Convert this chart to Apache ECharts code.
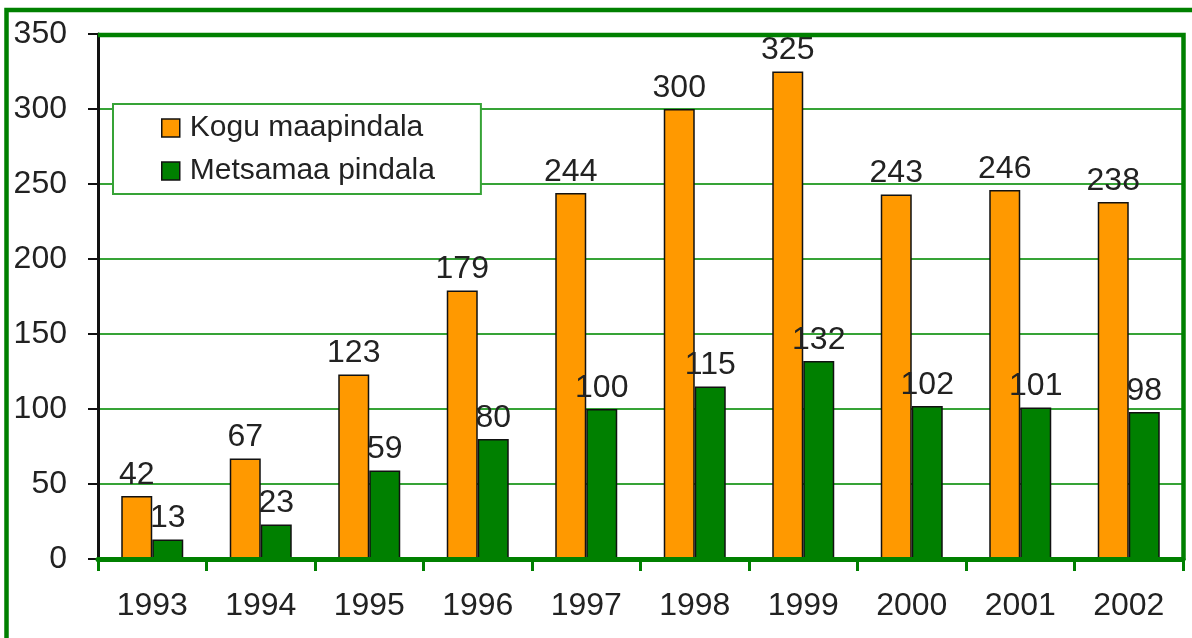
<!DOCTYPE html>
<html>
<head>
<meta charset="utf-8">
<script src="https://cdn.jsdelivr.net/npm/echarts@6/dist/echarts.min.js"></script>
<style>
html, body { margin: 0; padding: 0; background: #fff; }
#chart { width: 1192px; height: 638px; }
</style>
</head>
<body>
<div id="chart"></div>
<script>
// andmed
var years = ['1993', '1994', '1995', '1996', '1997', '1998', '1999', '2000', '2001', '2002'];
var kogu = [42, 67, 123, 179, 244, 300, 325, 243, 246, 238];
var mets = [13, 23, 59, 80, 100, 115, 132, 102, 101, 98];
var seriesNames = ['Kogu maapindala', 'Metsamaa pindala'];

var font = "'Liberation Sans', Arial, sans-serif";
var green = '#008000';
var gridGreen = '#36a336';

var chart = echarts.init(document.getElementById('chart'));

var option = {
    backgroundColor: '#fff',
    animation: false,
    textStyle: { fontFamily: font },
    graphic: [
        {
            // välimine raam
            type: 'rect',
            z: 0,
            shape: { x: 6.5, y: 10, width: 1300, height: 800 },
            style: { fill: 'none', stroke: green, lineWidth: 4.5 }
        },
        {
            // joonise ülemine ja parem serv
            type: 'polyline',
            z: 50,
            shape: { points: [[98, 35], [1183.5, 35], [1183.5, 560]] },
            style: { fill: 'none', stroke: green, lineWidth: 4.5 }
        }
    ],
    legend: {
        data: seriesNames,
        orient: 'vertical',
        left: 113, top: 104,
        padding: [9, 46, 8, 48],
        itemGap: 13,
        itemWidth: 18, itemHeight: 18,
        icon: 'rect',
        backgroundColor: '#fff',
        borderColor: gridGreen,
        borderWidth: 2,
        borderRadius: 0,
        itemStyle: { borderColor: '#111', borderWidth: 1.5 },
        textStyle: { fontSize: 30, color: '#222', fontFamily: font, padding: [0, 0, 0, 5] }
    },
    grid: {
        left: 98, top: 34, right: 9, bottom: 79
    },
    xAxis: {
        type: 'category',
        data: years,
        z: 20,
        axisLine: { lineStyle: { color: green, width: 5 } },
        axisTick: { show: true, length: 12, lineStyle: { color: green, width: 3 } },
        axisLabel: { fontSize: 32, color: '#222', margin: 31, fontFamily: font }
    },
    yAxis: {
        type: 'value',
        min: 0, max: 350, interval: 50,
        axisLine: { show: true, lineStyle: { color: '#111', width: 3 } },
        axisTick: { show: true, length: 10, lineStyle: { color: '#111', width: 2 } },
        axisLabel: { fontSize: 32, color: '#222', margin: 31, fontFamily: font },
        splitLine: { lineStyle: { color: gridGreen, width: 2 } }
    },
    series: [
        {
            name: seriesNames[0],
            type: 'bar',
            data: kogu,
            barWidth: 31,
            barGap: '0%',
            itemStyle: { color: '#ff9900', borderColor: '#111', borderWidth: 1.5 },
            label: { show: true, position: 'top', distance: 5, fontSize: 32, color: '#222', fontFamily: font }
        },
        {
            name: seriesNames[1],
            type: 'bar',
            data: mets,
            barWidth: 31,
            itemStyle: { color: green, borderColor: '#111', borderWidth: 1.5 },
            label: { show: true, position: 'top', distance: 5, fontSize: 32, color: '#222', fontFamily: font }
        }
    ]
};

chart.setOption(option);
</script>
</body>
</html>
